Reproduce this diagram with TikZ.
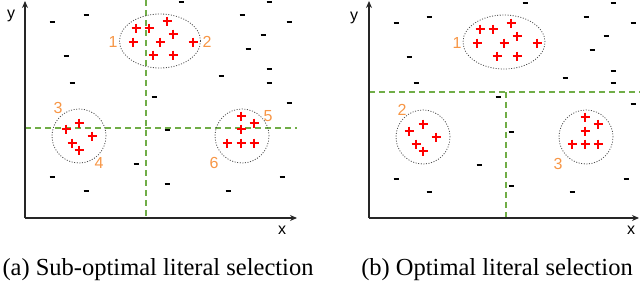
\documentclass[tikz,border=0pt]{standalone}
\usepackage{fontspec}
\setmainfont{Liberation Serif}
\setsansfont{Liberation Sans}
\usetikzlibrary{arrows.meta,shapes.geometric}
\definecolor{CutGreen}{HTML}{70AD47}
\definecolor{TagOrange}{HTML}{F79646}
\definecolor{PosRed}{HTML}{FF0000}

\begin{document}
\begin{tikzpicture}[x=1pt,y=-1pt,
    ax/.style={-{Stealth[length=7pt,width=6pt]},line width=1.3pt,black!85},
    cut/.style={CutGreen,line width=1.6pt,dash pattern=on 6pt off 4pt},
    clus/.style={draw=black!70,line width=.8pt,dash pattern=on 1pt off 1.6pt,inner sep=0pt},
    lab/.style={font=\sffamily\fontsize{16}{16}\selectfont,text=TagOrange,inner sep=0pt},
    axlab/.style={font=\sffamily\fontsize{16}{16}\selectfont,inner sep=0pt},
    pl/.style={PosRed,line width=1.8pt},
    mi/.style={black,line width=2pt},
    captext/.style={font=\fontsize{24.5}{24.5}\selectfont,inner sep=0pt}]
    \useasboundingbox (0,0) rectangle (640,284);
    % (a) sub-optimal
    \coordinate (oa) at (25,218);
    \coordinate (ya) at (25,1);
    \coordinate (xa) at (297,218);
    \coordinate (va1) at (146,0);
    \coordinate (va2) at (146,218);
    \coordinate (ha1) at (25,128);
    \coordinate (ha2) at (297,128);
    \draw[cut] (va1)--(va2);
    \draw[cut] (ha1)--(ha2);
    \draw[ax] (oa)--(ya);
    \draw[ax] (oa)--(xa);
    \node[axlab] (ya-l) at (11,16) {y};
    \node[axlab] (xa-l) at (282,230) {x};
    \node[clus,ellipse,minimum width=81,minimum height=54] (ca1) at (160,41) {};
    \node[clus,circle,minimum size=54] (ca2) at (79,136) {};
    \node[clus,circle,minimum size=54] (ca3) at (242,136) {};
    \node[lab] (la1) at (113,42) {1};
    \node[lab] (la2) at (207,42) {2};
    \node[lab] (la3) at (58,108) {3};
    \node[lab] (la4) at (99,163) {4};
    \node[lab] (la5) at (268,116) {5};
    \node[lab] (la6) at (214,163) {6};
    \foreach \x/\y in {136/28,149/28,167/21,173/34,133/42,160/42,193/42,153/55,173/55,
        79/123,66/129,92/136,72/143,79/150,
        241/116,254/123,241/129,227/143,241/143,254/143}
      \draw[pl] (\x-4.5,\y)--(\x+4.5,\y) (\x,\y-4.5)--(\x,\y+4.5);
    \foreach \x/\y in {181/2,269/2,86/15,52/22,242/15,289/22,263/35,66/56,248/49,
        269/69,221/76,269/83,72/83,154/97,289/103,167/130,136/164,52/177,
        282/177,86/191,167/184,228/191}
      \draw[mi] (\x-2.5,\y)--(\x+2.5,\y);
    \node[captext] (capa) at (158,270) {(a) Sub-optimal literal selection};
    % (b) optimal
    \coordinate (ob) at (369,218);
    \coordinate (yb) at (369,1);
    \coordinate (xb) at (639,218);
    \coordinate (hb1) at (369,92);
    \coordinate (hb2) at (640,92);
    \coordinate (vb1) at (506,92);
    \coordinate (vb2) at (506,218);
    \draw[cut] (hb1)--(hb2);
    \draw[cut] (vb1)--(vb2);
    \draw[ax] (ob)--(yb);
    \draw[ax] (ob)--(xb);
    \node[axlab] (yb-l) at (354,18) {y};
    \node[axlab] (xb-l) at (631,230) {x};
    \node[clus,ellipse,minimum width=82,minimum height=54] (cb1) at (504,42) {};
    \node[clus,circle,minimum size=54] (cb2) at (423,137) {};
    \node[clus,circle,minimum size=54] (cb3) at (586,137) {};
    \node[lab] (lb1) at (457,43) {1};
    \node[lab] (lb2) at (402,110) {2};
    \node[lab] (lb3) at (558,164) {3};
    \foreach \x/\y in {480/29,493/29,511/23,517/36,477/43,504/43,537/43,497/56,517/56,
        423/124,409/131,436/137,416/144,423/151,
        585/117,598/124,585/131,572/144,585/144,598/144}
      \draw[pl] (\x-4.5,\y)--(\x+4.5,\y) (\x,\y-4.5)--(\x,\y+4.5);
    \foreach \x/\y in {525/3,613/3,429/17,396/23,586/17,633/23,606/36,409/57,592/50,
        613/71,565/78,613/83,416/83,498/97,633/104,511/132,479/165,396/179,
        626/179,429/192,511/186,572/192}
      \draw[mi] (\x-2.5,\y)--(\x+2.5,\y);
    \node[captext] (capb) at (497,270) {(b) Optimal literal selection};
  \end{tikzpicture}
\end{document}
